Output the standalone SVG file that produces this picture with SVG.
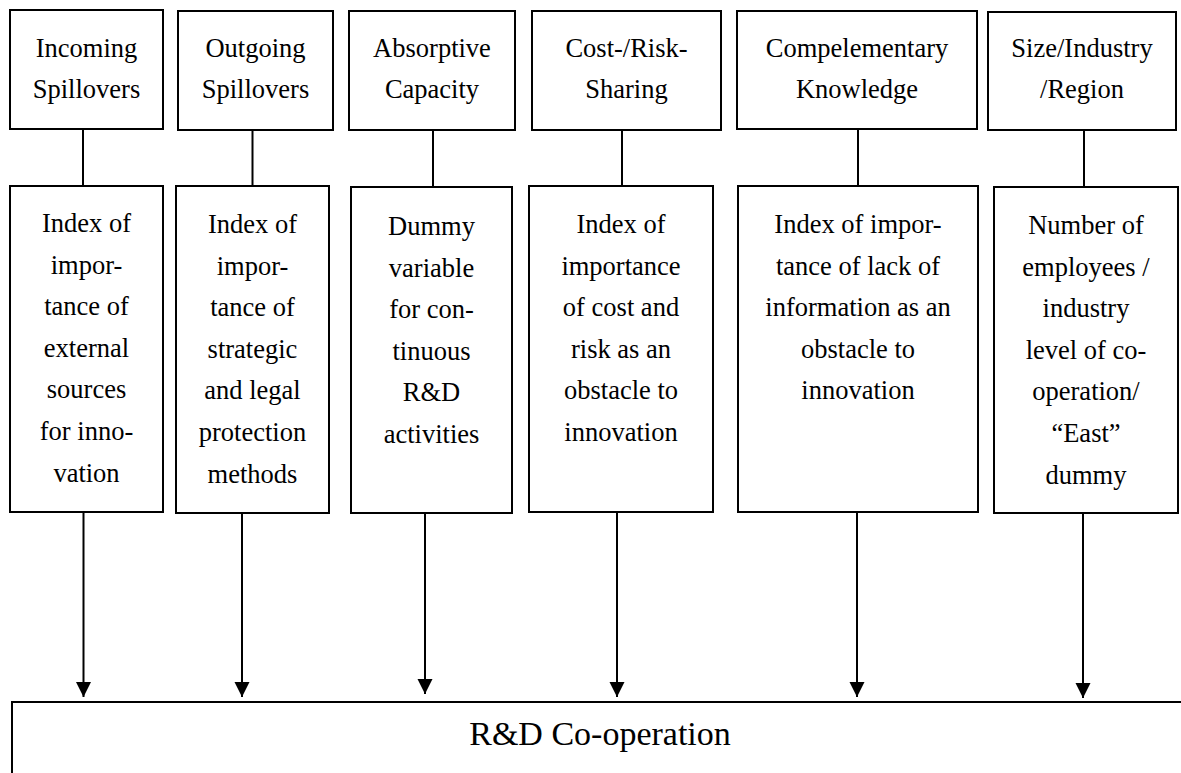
<svg xmlns="http://www.w3.org/2000/svg" width="1181" height="773" viewBox="0 0 1181 773">
<style>
.box{fill:#fff;stroke:#000;stroke-width:2}
.t{font-family:"Liberation Serif","Times New Roman",serif;font-size:26.5px;fill:#000;text-anchor:middle}
.big{font-family:"Liberation Serif","Times New Roman",serif;font-size:34px;fill:#000;text-anchor:middle}
.ln{stroke:#000;stroke-width:2;fill:none}
</style>
<defs>
<marker id="ah" markerWidth="16" markerHeight="16" viewBox="0 0 16 16" refX="15" refY="8" orient="auto" markerUnits="userSpaceOnUse">
<path d="M0,0.5 L15,8 L0,15.5 Z" fill="#000"/>
</marker>
</defs>
<rect width="1181" height="773" fill="#fff"/>
<g id="connectors">
<line class="ln" x1="83" y1="129" x2="83" y2="186"/>
<line class="ln" x1="252.5" y1="130" x2="252.5" y2="186"/>
<line class="ln" x1="433" y1="130" x2="433" y2="186"/>
<line class="ln" x1="622" y1="130" x2="622" y2="186"/>
<line class="ln" x1="858" y1="129" x2="858" y2="186"/>
<line class="ln" x1="1084" y1="130" x2="1084" y2="186"/>
<line class="ln" x1="83.5" y1="512" x2="83.5" y2="697" marker-end="url(#ah)"/>
<line class="ln" x1="242" y1="513" x2="242" y2="697" marker-end="url(#ah)"/>
<line class="ln" x1="425" y1="512" x2="425" y2="694" marker-end="url(#ah)"/>
<line class="ln" x1="617" y1="512" x2="617" y2="697" marker-end="url(#ah)"/>
<line class="ln" x1="857" y1="510" x2="857" y2="697" marker-end="url(#ah)"/>
<line class="ln" x1="1083" y1="513" x2="1083" y2="698" marker-end="url(#ah)"/>
</g>
<g id="n1">
<rect class="box" x="10" y="10" width="153" height="119"/>
<text class="t" x="86.5"><tspan x="86.5" y="57">Incoming</tspan><tspan x="86.5" y="98">Spillovers</tspan></text>
</g>
<g id="n2">
<rect class="box" x="178" y="11" width="155" height="119"/>
<text class="t" x="255.5"><tspan x="255.5" y="57">Outgoing</tspan><tspan x="255.5" y="98">Spillovers</tspan></text>
</g>
<g id="n3">
<rect class="box" x="349" y="11" width="166" height="119"/>
<text class="t" x="432"><tspan x="432" y="57">Absorptive</tspan><tspan x="432" y="98">Capacity</tspan></text>
</g>
<g id="n4">
<rect class="box" x="532" y="11" width="189" height="119"/>
<text class="t" x="626.5"><tspan x="626.5" y="57">Cost-/Risk-</tspan><tspan x="626.5" y="98">Sharing</tspan></text>
</g>
<g id="n5">
<rect class="box" x="737" y="11" width="240" height="118"/>
<text class="t" x="857"><tspan x="857" y="57">Compelementary</tspan><tspan x="857" y="98">Knowledge</tspan></text>
</g>
<g id="n6">
<rect class="box" x="988" y="12" width="188" height="118"/>
<text class="t" x="1082"><tspan x="1082" y="57">Size/Industry</tspan><tspan x="1082" y="98">/Region</tspan></text>
</g>
<g id="m1">
<rect class="box" x="10" y="186" width="153" height="326"/>
<text class="t"><tspan x="86.5" y="232">Index of</tspan><tspan x="86.5" y="273.6">impor-</tspan><tspan x="86.5" y="315.2">tance of</tspan><tspan x="86.5" y="356.8">external</tspan><tspan x="86.5" y="398.4">sources</tspan><tspan x="86.5" y="440">for inno-</tspan><tspan x="86.5" y="481.6">vation</tspan></text>
</g>
<g id="m2">
<rect class="box" x="176" y="186" width="153" height="327"/>
<text class="t"><tspan x="252.5" y="233">Index of</tspan><tspan x="252.5" y="274.6">impor-</tspan><tspan x="252.5" y="316.2">tance of</tspan><tspan x="252.5" y="357.8">strategic</tspan><tspan x="252.5" y="399.4">and legal</tspan><tspan x="252.5" y="441">protection</tspan><tspan x="252.5" y="482.6">methods</tspan></text>
</g>
<g id="m3">
<rect class="box" x="351" y="187" width="161" height="326"/>
<text class="t"><tspan x="431.5" y="235">Dummy</tspan><tspan x="431.5" y="276.6">variable</tspan><tspan x="431.5" y="318.2">for con-</tspan><tspan x="431.5" y="359.8">tinuous</tspan><tspan x="431.5" y="401.4">R&amp;D</tspan><tspan x="431.5" y="443">activities</tspan></text>
</g>
<g id="m4">
<rect class="box" x="529" y="186" width="184" height="326"/>
<text class="t"><tspan x="621" y="233">Index of</tspan><tspan x="621" y="274.6">importance</tspan><tspan x="621" y="316.2">of cost and</tspan><tspan x="621" y="357.8">risk as an</tspan><tspan x="621" y="399.4">obstacle to</tspan><tspan x="621" y="441">innovation</tspan></text>
</g>
<g id="m5">
<rect class="box" x="738" y="186" width="240" height="326"/>
<text class="t"><tspan x="858" y="233">Index of impor-</tspan><tspan x="858" y="274.6">tance of lack of</tspan><tspan x="858" y="316.2">information as an</tspan><tspan x="858" y="357.8">obstacle to</tspan><tspan x="858" y="399.4">innovation</tspan></text>
</g>
<g id="m6">
<rect class="box" x="994" y="187" width="184" height="326"/>
<text class="t"><tspan x="1086" y="234">Number of</tspan><tspan x="1086" y="275.6">employees /</tspan><tspan x="1086" y="317.2">industry</tspan><tspan x="1086" y="358.8">level of co-</tspan><tspan x="1086" y="400.4">operation/</tspan><tspan x="1086" y="442">“East”</tspan><tspan x="1086" y="483.6">dummy</tspan></text>
</g>
<g id="rd">
<rect class="box" x="12" y="702" width="1200" height="120"/>
<text class="big" x="600" y="745">R&amp;D Co-operation</text>
</g>
</svg>
